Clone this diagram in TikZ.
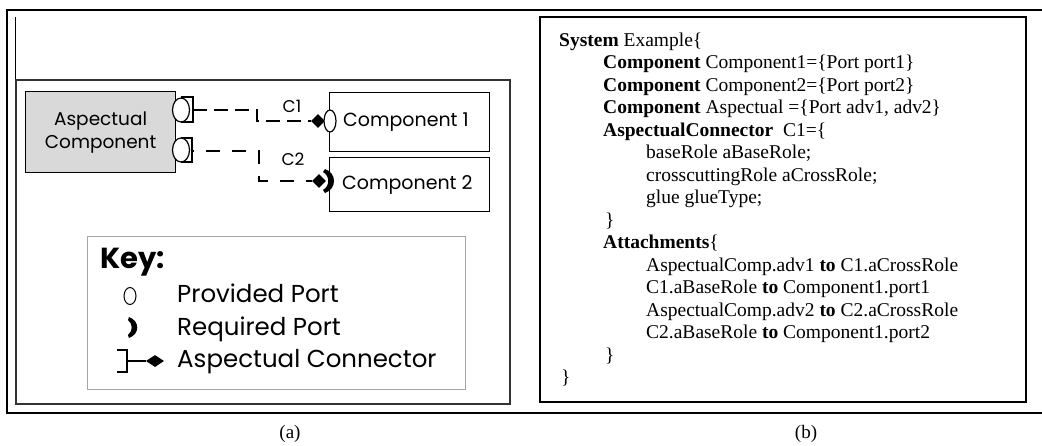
\documentclass[tikz,border=0pt]{standalone}
\usepackage{fontspec}
\usetikzlibrary{shapes.geometric}
\setmainfont{Liberation Serif}
\newfontfamily\gothic{Poppins}
\begin{document}
\begin{tikzpicture}[x=1pt,y=-1pt,
  frame/.style={line width=2pt},
  pbox/.style={draw, line width=1.2pt, inner sep=0, anchor=north west},
  port/.style={ellipse, draw, fill=white, line width=1.2pt, inner sep=0, minimum width=17pt, minimum height=24pt},
  conn/.style={line width=2.6pt, dash pattern=on 14pt off 7pt},
  dmd/.style={diamond, fill=black, inner sep=0, aspect=1, minimum size=14pt},
  lbl/.style={font=\gothic\fontsize{19}{22}\selectfont, anchor=west, inner sep=0},
  clbl/.style={font=\gothic\fontsize{17}{20}\selectfont, inner sep=0},
  keyt/.style={font=\gothic\fontsize{24.5}{28}\selectfont, anchor=base west, inner sep=0},
  code/.style={font=\fontsize{19.5}{22.5}\selectfont, anchor=base west, inner sep=0},
  captext/.style={font=\fontsize{19}{22}\selectfont, anchor=base, inner sep=0}]
\useasboundingbox (0,0) rectangle (1042,445);
% outer frame
\draw[frame] (1045,10) -- (7,10) -- (7,413) -- (1045,413);
% panel (a)
\draw[line width=1pt] (15,17) -- (15,404);
\draw[line width=1.2pt, draw=black!80] (16,80) rectangle (510,404);
% aspectual component
\node[pbox, fill=black!15, minimum width=150pt, minimum height=81pt] (asp) at (25,91) {};
\node[font=\gothic\fontsize{18.5}{23}\selectfont, align=center] (asptext) at (asp.center) {Aspectual\\Component};
\node[pbox, minimum width=160pt, minimum height=59pt] (comp1) at (329,92) {};
\node[pbox, minimum width=160pt, minimum height=54pt] (comp2) at (329,157) {};
\node[lbl] (c1text) at (343,122) {Component 1};
\node[lbl] (c2text) at (342,185) {Component 2};
% brackets
\draw[line width=1.6pt] (181,97) -- (193,97) -- (193,122) -- (181,122);
\draw[line width=1.6pt] (181,138) -- (192,138) -- (192,162) -- (181,162);
\node[port] (adv1) at (181,110) {};
\node[port] (adv2) at (181,150) {};
\coordinate (b1) at (193,110);
\coordinate (b2) at (192,151);
% component ports
\node[dmd] (d1) at (318,121) {};
\node[port, minimum width=12pt, minimum height=22pt] (port1) at (330,121) {};
\node[dmd] (d2) at (319,181) {};
\fill (325,169) .. controls (337,173) and (337,189) .. (325,193) -- (323,190) .. controls (330,186) and (330,176) .. (323,172) -- cycle;
% connectors
\coordinate (k1) at (257,121);
\coordinate (k2) at (259,181);
\draw[conn] (b1) -| (k1) -- (d1.west);
\draw[conn, dash pattern=on 14pt off 12pt, dash phase=12pt] (b2) -| (k2) -- (d2.west);
\node[clbl] (lc1) at (292,106) {C1};
\node[clbl] (lc2) at (293,159) {C2};
% key
\node[pbox, draw=black!35, line width=1pt, minimum width=378pt, minimum height=153pt] (key) at (87,236) {};
\node[keyt, font=\gothic\bfseries\fontsize{29}{32}\selectfont] (keyh) at (100,268) {Key:};
\node[ellipse, draw, line width=1pt, inner sep=0, minimum width=12pt, minimum height=17pt] (kp) at (130,296) {};
\fill (129,317) .. controls (140,321) and (140,334) .. (129,338) -- (128,335) .. controls (133,331) and (133,324) .. (128,320) -- cycle;
\draw[line width=1.8pt] (117,350) -- (127,350) -- (127,372) -- (117,372);
\node[diamond, fill=black, inner sep=0, aspect=1.5, minimum width=18pt, minimum height=12pt] (kd) at (155,361) {};
\coordinate (kb) at (127,361);
\draw[line width=1.8pt] (kb) -- (kd.west);
\node[keyt] (k1t) at (177,302) {Provided Port};
\node[keyt] (k2t) at (177,335) {Required Port};
\node[keyt] (k3t) at (177,367) {Aspectual Connector};
% panel (b)
\draw[line width=2.5pt] (540,17) rectangle (1026,402);
\node[code] (l1) at (559,46) {\textbf{System} Example\{};
\node[code] (l2) at (603,68.5) {\textbf{Component} Component1=\{Port port1\}};
\node[code] (l3) at (603,91) {\textbf{Component} Component2=\{Port port2\}};
\node[code] (l4) at (603,113.5) {\textbf{Component} Aspectual =\{Port adv1, adv2\}};
\node[code] (l5) at (603,136) {\textbf{AspectualConnector}\ \ C1=\{};
\node[code] (l6) at (646,158.5) {baseRole aBaseRole;};
\node[code] (l7) at (646,181) {crosscuttingRole aCrossRole;};
\node[code] (l8) at (646,203.5) {glue glueType;};
\node[code] (l9) at (605,226) {\}};
\node[code] (l10) at (603,248.5) {\textbf{Attachments}\{};
\node[code] (l11) at (646,271) {AspectualComp.adv1 \textbf{to} C1.aCrossRole};
\node[code] (l12) at (646,293.5) {C1.aBaseRole \textbf{to} Component1.port1};
\node[code] (l13) at (646,316) {AspectualComp.adv2 \textbf{to} C2.aCrossRole};
\node[code] (l14) at (646,338.5) {C2.aBaseRole \textbf{to} Component1.port2};
\node[code] (l15) at (605,361) {\}};
\node[code] (l16) at (561,383.5) {\}};
% captions
\node[captext] (capa) at (290,438) {(a)};
\node[captext] (capb) at (806,438) {(b)};
\end{tikzpicture}
\end{document}
